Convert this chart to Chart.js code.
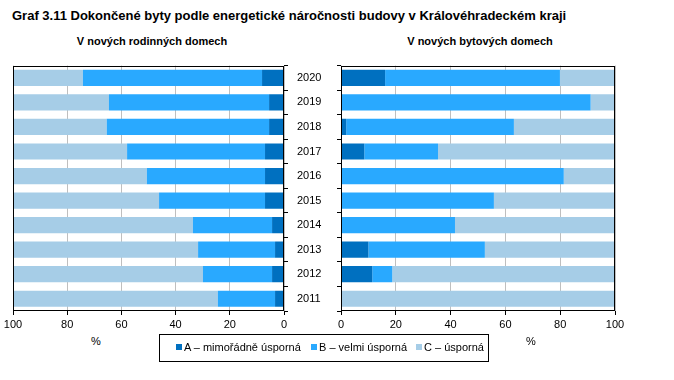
<!DOCTYPE html>
<html>
<head>
<meta charset="utf-8">
<script src="https://cdn.jsdelivr.net/npm/chart.js@4/dist/chart.umd.min.js"></script>
<style>
  body { margin: 0; background: #fff; font-family: Arial, 'Liberation Sans', sans-serif; }
  #wrap { position: relative; width: 674px; height: 380px; }
  canvas { position: absolute; }
  .txt { position: absolute; color: #000; white-space: nowrap; }
  #title { left: 12px; top: 8px; font-size: 13px; font-weight: bold; }
  .sub { top: 35px; font-size: 11px; font-weight: bold; transform: translateX(-50%); }
  .pct { top: 335px; font-size: 11px; transform: translateX(-50%); }
  #legend { position: absolute; left: 159px; top: 334px; width: 328px; height: 26px; border: 1px solid #000;
    font-size: 11px; }
  .item { position: absolute; top: 6px; display: flex; align-items: center; white-space: nowrap; }
  .sq { width: 6px; height: 6px; margin-right: 2px; flex-shrink: 0; }
</style>
</head>
<body>
<div id="wrap">
  <div id="title" class="txt">Graf 3.11 Dokončené byty podle energetické náročnosti budovy v Královéhradeckém kraji</div>
  <div class="txt sub" style="left:152px">V nových rodinných domech</div>
  <div class="txt sub" style="left:480px">V nových bytových domech</div>
  <canvas id="left" width="340" height="285" style="left:0;top:50px"></canvas>
  <canvas id="right" width="344" height="285" style="left:330px;top:50px"></canvas>
  <div class="txt pct" style="left:96px">%</div>
  <div class="txt pct" style="left:531px">%</div>
  <div id="legend">
    <div class="item" style="left:16px"><div class="sq" style="background:#0070C0"></div>A – mimořádně úsporná</div>
    <div class="item" style="left:151px"><div class="sq" style="background:#29A9FF"></div>B – velmi úsporná</div>
    <div class="item" style="left:256px"><div class="sq" style="background:#A6CDE7"></div>C – úsporná</div>
  </div>
</div>
<script>
const years = ['2020', '2019', '2018', '2017', '2016', '2015', '2014', '2013', '2012', '2011']
const seriesNames = ['A – mimořádně úsporná', 'B – velmi úsporná', 'C – úsporná']
const xTicks = [0, 20, 40, 60, 80, 100]

// v nových rodinných domech (%)
const rdA = [8.1, 5.5, 5.5, 7.0, 7.0, 7.0, 4.4, 3.3, 4.4, 3.3]
const rdB = [66.1, 59.1, 59.9, 50.9, 43.6, 39.1, 29.2, 28.4, 25.5, 21.1]
const rdC = [25.8, 35.4, 34.6, 42.1, 49.4, 53.9, 66.4, 68.3, 70.1, 75.6]

// v nových bytových domech (%)
const bdA = [16.1, 0, 1.9, 8.5, 0, 0, 0, 10.0, 11.4, 0]
const bdB = [63.8, 91.1, 61.2, 26.9, 81.3, 55.8, 41.6, 42.5, 7.3, 0]
const bdC = [20.1, 8.9, 36.9, 64.6, 18.7, 44.2, 58.4, 47.5, 81.3, 100]

const colors = ['#0070C0', '#29A9FF', '#A6CDE7']
const font = { family: "Arial, 'Liberation Sans', sans-serif", size: 11 }

// black frame round the plot area
const frame = {
  id: 'frame',
  afterDraw(chart) {
    const a = chart.chartArea
    const ctx = chart.ctx
    ctx.save()
    ctx.strokeStyle = '#000'
    ctx.lineWidth = 1
    ctx.strokeRect(Math.round(a.left) + 0.5, Math.round(a.top) + 0.5,
      Math.round(a.right - a.left) - 1, Math.round(a.bottom - a.top) - 1)
    ctx.restore()
  }
}

function makeChart(id, a, b, c, isLeft) {
  return new Chart(document.getElementById(id), {
    type: 'bar',
    data: {
      labels: years,
      datasets: [a, b, c].map((d, i) => ({
        label: seriesNames[i],
        data: d,
        backgroundColor: colors[i],
        barPercentage: 0.66,
        categoryPercentage: 1
      }))
    },
    options: {
      indexAxis: 'y',
      responsive: false,
      animation: false,
      layout: { padding: isLeft ? { left: 13, top: 4, right: 0, bottom: 0 } : { left: 0, top: 4, right: 59, bottom: 0 } },
      plugins: { legend: { display: false }, tooltip: { enabled: false } },
      scales: {
        x: {
          stacked: true,
          reverse: isLeft,
          min: 0,
          max: 100,
          afterBuildTicks: (s) => { s.ticks = xTicks.map((v) => ({ value: v })) },
          afterFit: (s) => { s.height = 24 },
          border: { display: false },
          grid: { color: '#BFBFBF', tickColor: '#000', tickLength: 4 },
          ticks: { color: '#000', font: font, padding: 3, maxRotation: 0 }
        },
        y: {
          stacked: true,
          position: isLeft ? 'right' : 'left',
          afterFit: (s) => { s.width = isLeft ? 56 : 11 },
          border: { display: false },
          grid: { offset: true, drawOnChartArea: false, color: '#000', tickLength: 4 },
          ticks: {
            color: '#000',
            font: font,
            padding: 9,
            callback: isLeft ? (v, i) => years[i] : () => ''
          }
        }
      }
    },
    plugins: [frame]
  })
}

makeChart('left', rdA, rdB, rdC, true)
makeChart('right', bdA, bdB, bdC, false)
</script>
</body>
</html>
